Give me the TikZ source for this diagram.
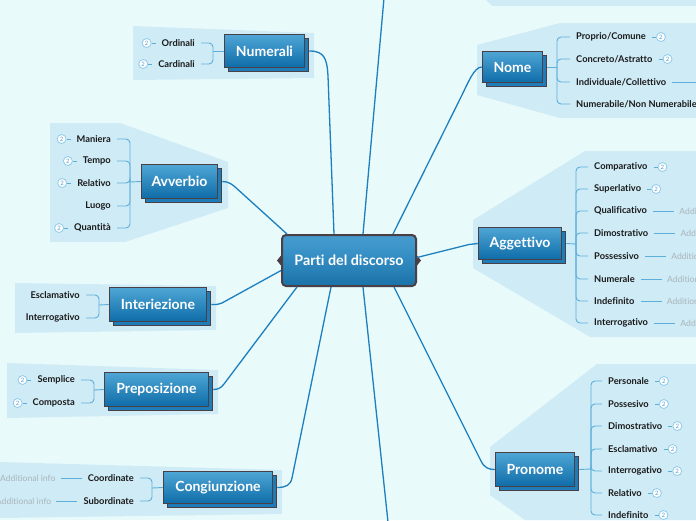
\documentclass[tikz,border=0pt]{standalone}
\usepackage{fontspec}
\setmainfont{Lato}[Ligatures=NoCommon]
\usetikzlibrary{positioning,calc,shadows}

\definecolor{bgc}{HTML}{E9FAFB}
\definecolor{panel}{HTML}{CFEBF6}
\definecolor{brd}{HTML}{4B3F46}
\definecolor{ntop}{HTML}{4FA6D5}
\definecolor{nbot}{HTML}{0E6CA8}
\definecolor{nshad}{HTML}{1E7DB8}
\definecolor{conn}{HTML}{1B7FC0}
\definecolor{brkc}{HTML}{5DAEDB}
\definecolor{txt}{HTML}{1A1A1A}
\definecolor{infot}{HTML}{A9B5BB}
\definecolor{bdg}{HTML}{8FCBEA}
\definecolor{bdgt}{HTML}{4F9FD0}
\definecolor{ca}{HTML}{2C89C1}
\definecolor{cb}{HTML}{0A5B8F}
\definecolor{cc}{HTML}{176FA6}
\definecolor{cd}{HTML}{3A93C8}
\definecolor{ce}{HTML}{5BAAD6}

\pgfdeclareverticalshading{ctrshade}{100bp}{color(0bp)=(ca); color(8bp)=(cb); color(22bp)=(cc); color(60bp)=(cd); color(100bp)=(ce)}

\begin{document}
\begin{tikzpicture}[
    x=1pt, y=-1pt,
    conn/.style={draw=conn, line width=1.3pt},
    brk/.style={draw=brkc, line width=0.9pt, rounded corners=4pt},
    ctr/.style={draw=brd, line width=2pt, rounded corners=4pt, shading=ctrshade,
        text=white, font=\fontsize{14.3}{16}\selectfont\bfseries,
        minimum width=134pt, minimum height=51pt, inner sep=0pt},
    topic/.style={draw=brd, line width=1.5pt, top color=ntop, bottom color=nbot,
        text=white, font=\fontsize{14}{16}\selectfont\bfseries, inner sep=0pt,
        general shadow={fill=nshad, draw=brd, line width=1.5pt, shadow xshift=4pt, shadow yshift=-4pt}},
    kid/.style={text=txt, font=\fontsize{9.3}{11}\selectfont\bfseries, inner xsep=6pt, inner ysep=1pt},
    badge/.style={circle, draw=bdg, fill=white, line width=0.8pt, inner sep=0pt,
        minimum size=9pt, text=bdgt, font=\fontsize{6}{6}\selectfont},
    info/.style={text=infot, font=\fontsize{8.6}{10}\selectfont, inner xsep=5pt, inner ysep=1pt},
]

\useasboundingbox (0,0) rectangle (696,520);
\clip (0,0) rectangle (696,520);
\fill[bgc] (0,0) rectangle (696,520);

% === Panels ===
\fill[panel] (486,0) -- (696,0) -- (696,6) -- (492,6) -- cycle;
\fill[panel] (133,26) -- (314,33) -- (314,78) -- (133,80) -- cycle;
\fill[panel] (477,45) -- (560,23) -- (696,23) -- (696,118) -- (560,118) -- (477,95) -- cycle;
\fill[panel] (50,123) -- (120,123) -- (228,162) -- (228,208) -- (125,242) -- (50,242) -- cycle;
\fill[panel] (473,220) -- (585,151) -- (696,151) -- (696,337) -- (590,337) -- (473,268) -- cycle;
\fill[panel] (15,283) -- (216,286) -- (216,330) -- (15,333) -- cycle;
\fill[panel] (7,363) -- (218,370) -- (218,414) -- (7,418) -- cycle;
\fill[panel] (0,462) -- (282,470) -- (282,514) -- (0,518) -- cycle;
\fill[panel] (490,447) -- (597,364) -- (696,364) -- (696,520) -- (525,520) -- (490,495) -- cycle;

% === Central topic ===
\node[ctr] (pdd) at (349,260.5) {Parti del discorso};
\fill[brd] ([yshift=5pt]pdd.west) -- ++(-4,5) -- ++(4,5) -- cycle;
\fill[brd] ([yshift=5pt]pdd.east) -- ++(4,5) -- ++(-4,5) -- cycle;

% === Main topics ===
\node[topic, minimum width=80pt, minimum height=33pt] (num) at (264.5,51) {Numerali};
\node[topic, minimum width=60pt, minimum height=31pt] (nome) at (512.5,67) {Nome};
\node[topic, minimum width=76pt, minimum height=34pt] (avv) at (179.5,181.5) {Avverbio};
\node[topic, minimum width=83pt, minimum height=32pt] (agg) at (520,243.5) {Aggettivo};
\node[topic, minimum width=97pt, minimum height=34pt] (intz) at (158,304.5) {Interiezione};
\node[topic, minimum width=104pt, minimum height=34pt] (prep) at (156.5,389.5) {Preposizione};
\node[topic, minimum width=109pt, minimum height=32pt] (cong) at (218,487.5) {Congiunzione};
\node[topic, minimum width=79pt, minimum height=34pt] (pron) at (535,469.5) {Pronome};

% === Connectors from the centre ===
\coordinate (topend) at (384,-2);
\coordinate (botend) at (388,522);
\draw[conn] ([xshift=-15pt]pdd.north) -- (328,76) .. controls (327,58) and (324,51) .. ([xshift=4pt]num.east);
\draw[conn] ([xshift=14pt]pdd.north) -- (topend);
\draw[conn] ([xshift=44pt]pdd.north) -- (461,97) .. controls (468,83) and (474,67) .. (nome.west);
\draw[conn] ([yshift=3pt]pdd.east) -- (469,244.5) -- (agg.west);
\draw[conn] ([xshift=45pt]pdd.south) -- (481,461) .. controls (484.5,468) and (489,469.5) .. (pron.west);
\draw[conn] ([xshift=14pt]pdd.south) -- (botend);
\draw[conn] ([xshift=-18pt]pdd.south) -- (292,478) .. controls (290.6,485) and (286,487.5) .. ([xshift=4pt]cong.east);
\draw[conn] ([xshift=-52pt]pdd.south) -- (224,384) .. controls (221,388) and (218,389.5) .. ([xshift=4pt]prep.east);
\draw[conn] ([yshift=-10pt]pdd.west) -- (222,303) .. controls (219,304.5) and (217,304.5) .. ([xshift=4pt]intz.east);
\draw[conn] ([xshift=-62pt]pdd.north) -- (234,186) .. controls (230,183) and (227,181.5) .. ([xshift=4pt]avv.east);

% === Numerali ===
\node[kid, anchor=east] (ord) at (201,43) {Ordinali};
\node[kid, anchor=east] (card) at (201,64) {Cardinali};
\node[badge, left=4pt of ord] (ordb) {2};
\node[badge, left=4pt of card] (cardb) {2};
\coordinate (numj) at (213,51);
\draw[brk] (num.west) -- (numj);
\draw[brk] (numj) |- (ord.east);
\draw[brk] (numj) |- (card.east);
\draw[brk] (ordb) -- (ord.west);
\draw[brk] (cardb) -- (card.west);

% === Avverbio ===
\node[kid, anchor=east] (man) at (117,139) {Maniera};
\node[kid, anchor=east] (tem) at (117,161) {Tempo};
\node[kid, anchor=east] (rel) at (117,183) {Relativo};
\node[kid, anchor=east] (luo) at (117,206) {Luogo};
\node[kid, anchor=east] (qua) at (117,228) {Quantità};
\node[badge, left=4pt of man] (manb) {2};
\node[badge, left=4pt of tem] (temb) {2};
\node[badge, left=4pt of rel] (relb) {2};
\node[badge, left=4pt of qua] (quab) {2};
\coordinate (avvj) at (130,182);
\draw[brk] (avv.west) -- (avvj);
\draw[brk] (avvj) |- (man.east);
\draw[brk] (avvj) |- (tem.east);
\draw[brk] (avvj) |- (rel.east);
\draw[brk] (avvj) |- (luo.east);
\draw[brk] (avvj) |- (qua.east);
\draw[brk] (manb) -- (man.west);
\draw[brk] (temb) -- (tem.west);
\draw[brk] (relb) -- (rel.west);
\draw[brk] (quab) -- (qua.west);

% === Interiezione ===
\node[kid, anchor=east] (escl) at (86,295) {Esclamativo};
\node[kid, anchor=east] (intr) at (86,318) {Interrogativo};
\coordinate (intj) at (99,305);
\draw[brk] (intz.west) -- (intj);
\draw[brk] (intj) |- (escl.east);
\draw[brk] (intj) |- (intr.east);

% === Preposizione ===
\node[kid, anchor=east] (sem) at (81,380) {Semplice};
\node[kid, anchor=east] (com) at (81,403) {Composta};
\node[badge, left=4pt of sem] (semb) {2};
\node[badge, left=4pt of com] (comb) {2};
\coordinate (prepj) at (94,390);
\draw[brk] (prep.west) -- (prepj);
\draw[brk] (prepj) |- (sem.east);
\draw[brk] (prepj) |- (com.east);
\draw[brk] (semb) -- (sem.west);
\draw[brk] (comb) -- (com.west);

% === Congiunzione ===
\node[kid, anchor=east] (coo) at (140,478) {Coordinate};
\node[kid, anchor=east] (sub) at (140,501) {Subordinate};
\node[info, left=21pt of coo] (cooi) {Additional info};
\node[info, left=21pt of sub] (subi) {Additional info};
\coordinate (congj) at (152,488);
\draw[brk] (cong.west) -- (congj);
\draw[brk] (congj) |- (coo.east);
\draw[brk] (congj) |- (sub.east);
\draw[brk] (cooi) -- (coo.west);
\draw[brk] (subi) -- (sub.west);

% === Nome ===
\node[kid, anchor=west] (prc) at (570,37) {Proprio/Comune};
\node[kid, anchor=west] (cas) at (570,59) {Concreto/Astratto};
\node[kid, anchor=west] (ico) at (570,82) {Individuale/Collettivo};
\node[kid, anchor=west] (nnu) at (570,104) {Numerabile/Non Numerabile};
\node[badge, right=4pt of prc] (prcb) {2};
\node[badge, right=4pt of cas] (casb) {2};
\coordinate (icoe) at (700,82);
\coordinate (nomej) at (557,67);
\draw[brk] ([xshift=4pt]nome.east) -- (nomej);
\draw[brk] (nomej) |- (prc.west);
\draw[brk] (nomej) |- (cas.west);
\draw[brk] (nomej) |- (ico.west);
\draw[brk] (nomej) |- (nnu.west);
\draw[brk] (prc) -- (prcb);
\draw[brk] (cas) -- (casb);
\draw[brk] (ico) -- (icoe);

% === Aggettivo ===
\node[kid, anchor=west] (cmp) at (588,167) {Comparativo};
\node[kid, anchor=west] (sup) at (588,189) {Superlativo};
\node[kid, anchor=west] (qlf) at (588,211) {Qualificativo};
\node[kid, anchor=west] (dim) at (588,233) {Dimostrativo};
\node[kid, anchor=west] (pos) at (588,256) {Possessivo};
\node[kid, anchor=west] (nmr) at (588,279) {Numerale};
\node[kid, anchor=west] (ind) at (588,301) {Indefinito};
\node[kid, anchor=west] (itg) at (588,323) {Interrogativo};
\node[badge, right=4pt of cmp] (cmpb) {2};
\node[badge, right=4pt of sup] (supb) {2};
\node[info, right=21pt of qlf] (qlfi) {Additional info};
\node[info, right=21pt of dim] (dimi) {Additional info};
\node[info, right=21pt of pos] (posi) {Additional info};
\node[info, right=21pt of nmr] (nmri) {Additional info};
\node[info, right=21pt of ind] (indi) {Additional info};
\node[info, right=21pt of itg] (itgi) {Additional info};
\coordinate (aggj) at (576,244);
\draw[brk] ([xshift=4pt]agg.east) -- (aggj);
\draw[brk] (aggj) |- (cmp.west);
\draw[brk] (aggj) |- (sup.west);
\draw[brk] (aggj) |- (qlf.west);
\draw[brk] (aggj) |- (dim.west);
\draw[brk] (aggj) |- (pos.west);
\draw[brk] (aggj) |- (nmr.west);
\draw[brk] (aggj) |- (ind.west);
\draw[brk] (aggj) |- (itg.west);
\draw[brk] (cmp) -- (cmpb);
\draw[brk] (sup) -- (supb);
\draw[brk] (qlf) -- (qlfi);
\draw[brk] (dim) -- (dimi);
\draw[brk] (pos) -- (posi);
\draw[brk] (nmr) -- (nmri);
\draw[brk] (ind) -- (indi);
\draw[brk] (itg) -- (itgi);

% === Pronome ===
\node[kid, anchor=west] (per) at (602,381) {Personale};
\node[kid, anchor=west] (pss) at (602,404) {Possesivo};
\node[kid, anchor=west] (dmo) at (602,426) {Dimostrativo};
\node[kid, anchor=west] (esc) at (602,449) {Esclamativo};
\node[kid, anchor=west] (int) at (602,471) {Interrogativo};
\node[kid, anchor=west] (rlt) at (602,493) {Relativo};
\node[kid, anchor=west] (idf) at (602,515) {Indefinito};
\node[badge, right=4pt of per] (perb) {2};
\node[badge, right=4pt of pss] (pssb) {2};
\node[badge, right=4pt of dmo] (dmob) {2};
\node[badge, right=4pt of esc] (escb) {2};
\node[badge, right=4pt of int] (intb) {2};
\node[badge, right=4pt of rlt] (rltb) {2};
\node[badge, right=4pt of idf] (idfb) {2};
\coordinate (pronj) at (591,469);
\draw[brk] ([xshift=4pt]pron.east) -- (pronj);
\draw[brk] (pronj) |- (per.west);
\draw[brk] (pronj) |- (pss.west);
\draw[brk] (pronj) |- (dmo.west);
\draw[brk] (pronj) |- (esc.west);
\draw[brk] (pronj) |- (int.west);
\draw[brk] (pronj) |- (rlt.west);
\draw[brk] (pronj) |- (idf.west);
\draw[brk] (per) -- (perb);
\draw[brk] (pss) -- (pssb);
\draw[brk] (dmo) -- (dmob);
\draw[brk] (esc) -- (escb);
\draw[brk] (int) -- (intb);
\draw[brk] (rlt) -- (rltb);
\draw[brk] (idf) -- (idfb);

\end{tikzpicture}
\end{document}
